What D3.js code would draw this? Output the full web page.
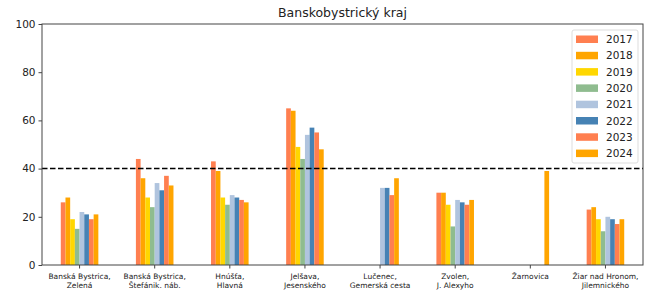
<!DOCTYPE html>
<html>
<head>
<meta charset="utf-8">
<script src="https://cdn.jsdelivr.net/npm/d3@7"></script>
<style>
  body { margin: 0; background: #fff; }
  text { font-family: "DejaVu Sans", sans-serif; fill: #222; }
</style>
</head>
<body>
<svg id="chart" width="649" height="293"></svg>
<script>
var categories = [
    "Banská Bystrica,\nZelená",
    "Banská Bystrica,\nŠtefánik. náb.",
    "Hnúšťa,\nHlavná",
    "Jelšava,\nJesenského",
    "Lučenec,\nGemerská cesta",
    "Zvolen,\nJ. Alexyho",
    "Žarnovica",
    "Žiar nad Hronom,\nJilemnického"
];

var years = ["2017", "2018", "2019", "2020", "2021", "2022", "2023", "2024"];

// one array per year, in category order (null = no measurement)
var v2017 = [26, 44, 43, 65, null, 30, null, 23];
var v2018 = [28, 36, 39, 64, null, 30, null, 24];
var v2019 = [19, 28, 28, 49, null, 25, null, 19];
var v2020 = [15, 24, 25, 44, null, 16, null, 14];
var v2021 = [22, 34, 29, 54, 32, 27, null, 20];
var v2022 = [21, 31, 28, 57, 32, 26, null, 19];
var v2023 = [19, 37, 27, 55, 29, 25, null, 17];
var v2024 = [21, 33, 26, 48, 36, 27, 39, 19];

var yTicks = [0, 20, 40, 60, 80, 100];
var limit = 40;

var colors = ["coral", "orange", "gold", "darkseagreen", "lightsteelblue", "steelblue", "coral", "orange"];

var series = [v2017, v2018, v2019, v2020, v2021, v2022, v2023, v2024];

var svg = d3.select("#chart");
var plotL = 42, plotR = 643, plotT = 24, plotB = 265;

var x = d3.scaleBand()
    .domain(categories)
    .range([plotL, plotR])
    .padding(0);

var y = d3.scaleLinear()
    .domain([0, 100])
    .range([plotB, plotT]);

var groupWidth = x.bandwidth() * 0.5;
var barW = groupWidth / years.length;
var half = x.bandwidth() / 2;

// bars
series.forEach(function(vals, i) {
    var data = vals.map(function(v, j) { return {cat: categories[j], v: v}; })
        .filter(function(d) { return d.v !== null; });
    svg.append("g").selectAll("rect")
        .data(data)
        .enter().append("rect")
        .attr("x", function(d) { return x(d.cat) + half - groupWidth / 2 + i * barW; })
        .attr("y", function(d) { return y(d.v); })
        .attr("width", barW)
        .attr("height", function(d) { return y(0) - y(d.v); })
        .attr("fill", colors[i]);
});

// limit line
svg.append("line")
    .attr("x1", plotL).attr("x2", plotR)
    .attr("y1", y(limit)).attr("y2", y(limit))
    .attr("stroke", "#000")
    .attr("stroke-width", 1.5)
    .attr("stroke-dasharray", "5.5,2.5");

// y axis
var yAxis = svg.append("g")
    .attr("transform", "translate(" + plotL + ",0)")
    .call(d3.axisLeft(y).tickValues(yTicks).tickSize(3.5).tickPadding(3));
yAxis.selectAll("text").style("font-size", "10.5px");

// x axis
var xAxis = svg.append("g")
    .attr("transform", "translate(0," + plotB + ")")
    .call(d3.axisBottom(x).tickSize(3.5).tickPadding(3).tickFormat(""));

xAxis.selectAll(".tick").each(function(d) {
    var lines = d.split("\n");
    var t = d3.select(this).append("text")
        .attr("text-anchor", "middle")
        .style("font-size", "7.5px");
    lines.forEach(function(l, k) {
        t.append("tspan").attr("x", 0).attr("y", 14 + k * 9).text(l);
    });
});

svg.selectAll(".domain").remove();
svg.selectAll(".tick line").attr("stroke", "#444");

// frame
svg.append("rect")
    .attr("x", plotL).attr("y", plotT)
    .attr("width", plotR - plotL).attr("height", plotB - plotT)
    .attr("fill", "none")
    .attr("stroke", "#444")
    .attr("stroke-width", 1);

// title
svg.append("text")
    .attr("x", (plotL + plotR) / 2)
    .attr("y", 17)
    .attr("text-anchor", "middle")
    .style("font-size", "12.5px")
    .text("Banskobystrický kraj");

// legend
var lg = svg.append("g").attr("transform", "translate(572,30)");
lg.append("rect")
    .attr("width", 66).attr("height", 133)
    .attr("rx", 2)
    .attr("fill", "#fff").attr("fill-opacity", 0.8)
    .attr("stroke", "#ddd");

var items = lg.selectAll("g.item")
    .data(years)
    .enter().append("g")
    .attr("class", "item")
    .attr("transform", function(d, i) { return "translate(0," + (9 + i * 16.3) + ")"; });

items.append("rect")
    .attr("x", 4).attr("y", -3.5)
    .attr("width", 22).attr("height", 7.5)
    .attr("fill", function(d, i) { return colors[i]; });

items.append("text")
    .attr("x", 34).attr("y", 4)
    .style("font-size", "10.5px")
    .text(function(d) { return d; });
</script>
</body>
</html>
